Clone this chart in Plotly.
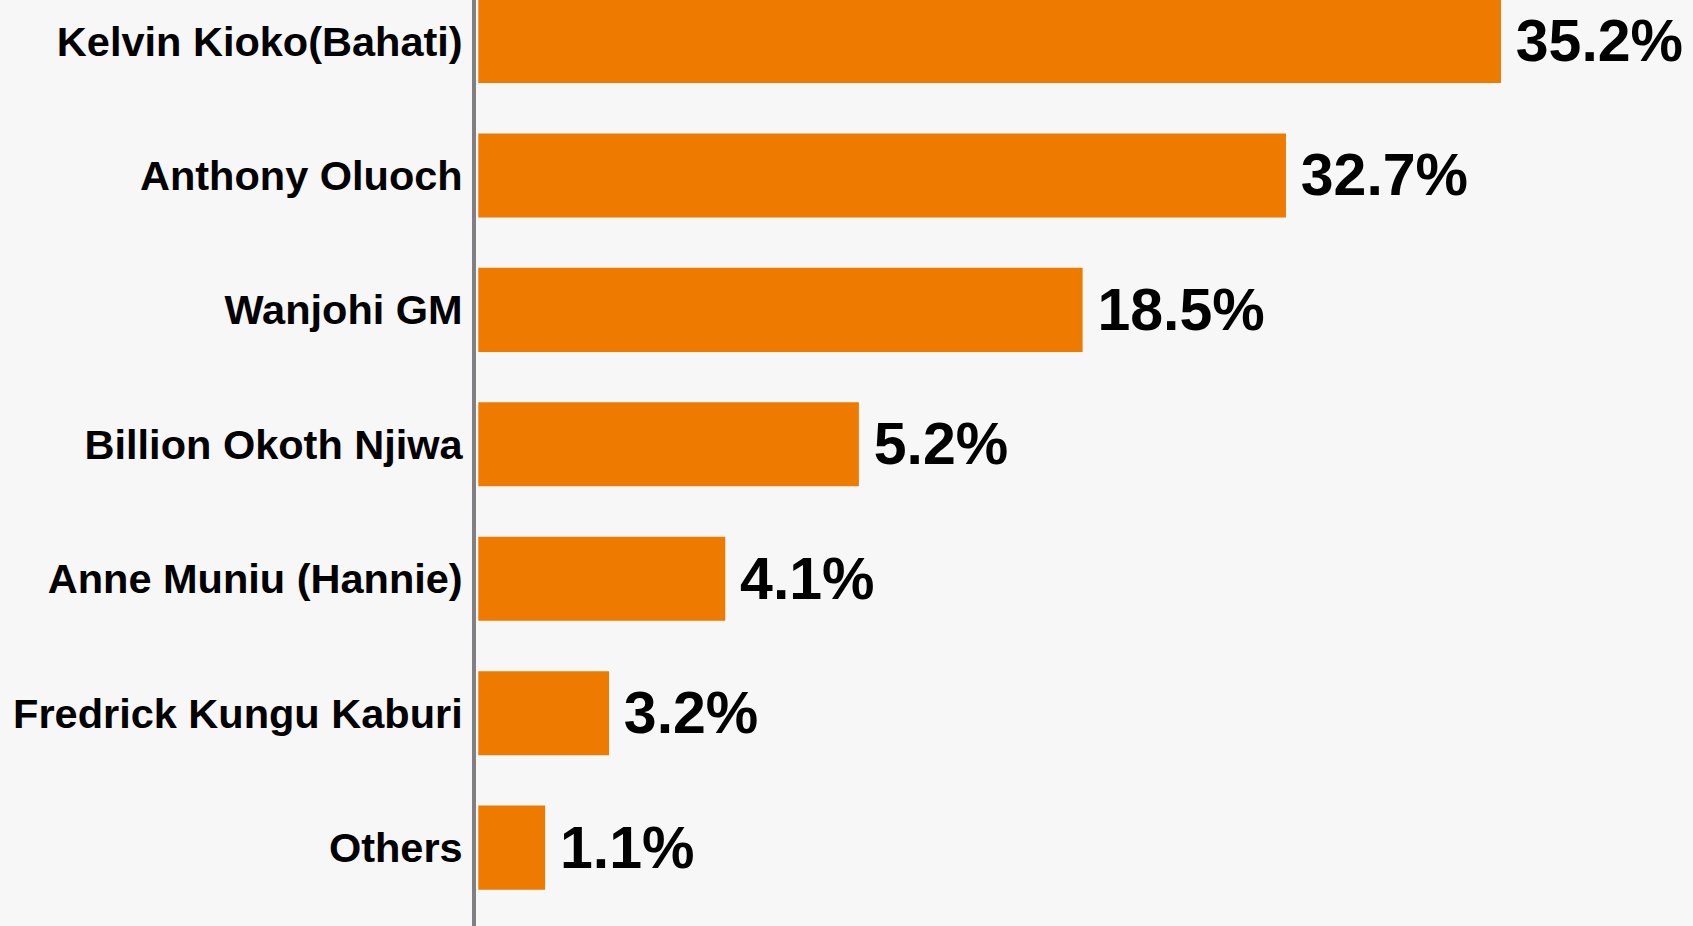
import plotly.graph_objects as go

# Data
candidates = [
    "Kelvin Kioko(Bahati)",
    "Anthony Oluoch",
    "Wanjohi GM",
    "Billion Okoth Njiwa",
    "Anne Muniu (Hannie)",
    "Fredrick Kungu Kaburi",
    "Others",
]
shares = [35.2, 32.7, 18.5, 5.2, 4.1, 3.2, 1.1]          # printed value labels (%)
# bar lengths as drawn in the source graphic (the graphic is not to scale)
bar_lengths = [35.2, 27.8, 20.8, 13.1, 8.5, 4.5, 2.3]

labels = ["\u2009" + f"{v:.1f}%" for v in shares]

FONT = "Liberation Sans Narrow, Arial Narrow, Liberation Sans, Arial, sans-serif"
ORANGE = "#EE7A00"

fig = go.Figure(
    go.Bar(
        x=bar_lengths,
        y=candidates,
        orientation="h",
        marker=dict(color=ORANGE, line=dict(width=0)),
        text=labels,
        textposition="outside",
        textfont=dict(family=FONT, size=59, color="#000000", weight="bold"),
        cliponaxis=False,
        hoverinfo="skip",
    )
)

fig.update_layout(
    width=1693,
    height=926,
    margin=dict(l=476, r=0, t=0, b=0, autoexpand=False),
    paper_bgcolor="#f7f7f7",
    plot_bgcolor="rgba(0,0,0,0)",
    bargap=0.375,
    showlegend=False,
)

fig.update_xaxes(
    range=[-0.079, 41.81],
    showgrid=False,
    zeroline=False,
    showticklabels=False,
    showline=False,
    automargin=False,
)

fig.update_yaxes(
    type="category",
    categoryorder="array",
    categoryarray=candidates,
    range=[6.583, -0.305],
    showgrid=False,
    zeroline=False,
    showline=True,
    linecolor="#808084",
    linewidth=4,
    ticks="",
    ticklabelstandoff=1,
    automargin=False,
    tickfont=dict(family=FONT, size=41.5, color="#000000", weight="bold"),
)

fig.write_html(
    "out.html",
    config={"displayModeBar": False},
    post_script="document.body.style.margin='0';document.body.style.padding='0';",
)
